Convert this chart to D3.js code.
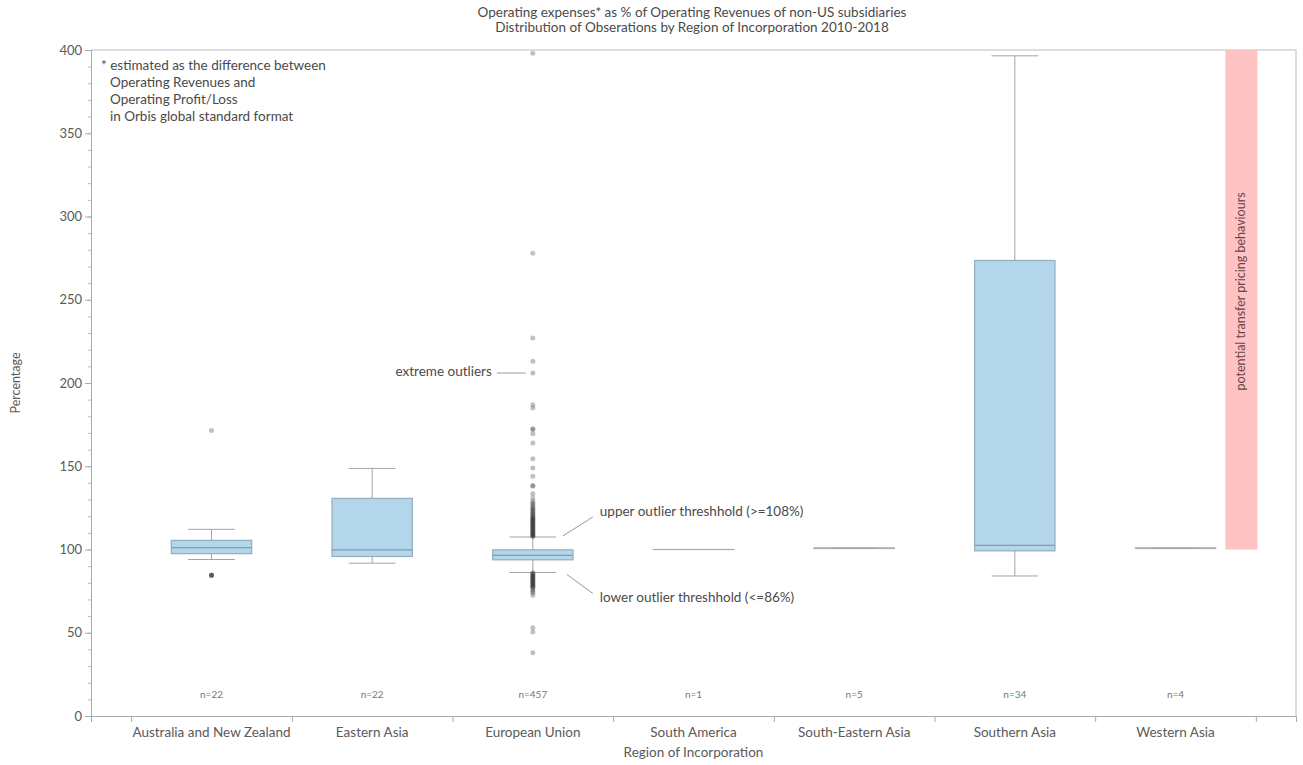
<!DOCTYPE html>
<html>
<head>
<meta charset="utf-8">
<script src="https://cdn.jsdelivr.net/npm/d3@7"></script>
<style>
  html, body { margin: 0; padding: 0; background: #fff; }
  svg { display: block; font-family: Lato, "Open Sans", sans-serif; }
</style>
</head>
<body>
<svg id="chart" width="1303" height="765"></svg>
<script>
// Regions of incorporation and observation counts
const regions = ["Australia and New Zealand", "Eastern Asia", "European Union",
  "South America", "South-Eastern Asia", "Southern Asia", "Western Asia"];
const counts = [22, 22, 457, 1, 5, 34, 4];

// Box plot statistics (operating expenses as % of operating revenues)
const whiskerLow  = [94.0, 91.8, 86.2, 100.0, 100.6, 84.1, 100.6];
const q1          = [97.5, 95.8, 93.8, 100.0, 100.6, 99.2, 100.6];
const median      = [101.1, 99.8, 96.5, 100.0, 100.7, 102.5, 100.7];
const q3          = [105.5, 130.7, 99.8, 100.0, 100.9, 273.6, 100.9];
const whiskerHigh = [112.1, 148.7, 107.5, 100.0, 100.9, 396.5, 100.9];

// Individual outlying observations per region
const outliers = [
  [171.5, 84.6, 84.6, 84.6, 84.6],
  [],
  [398, 278, 227, 213, 206, 187, 185, 172.5, 172, 169.5, 164, 154.5, 149, 144,
   138.5, 138, 133.5, 131, 129, 128, 127, 126, 125, 124.5, 123.5, 123, 122, 121.5,
   121, 120, 119.5, 119, 118.5, 118, 117.5, 117, 116.5, 116, 115.5, 115, 114.5,
   114, 113.5, 113, 112.5, 112, 111.5, 111, 110.5, 110, 109.5, 109, 108.5, 108, 108,
   86, 85.5, 85, 84.5, 84, 83.5, 83, 82.5, 82, 81.5, 81, 80.5, 80, 79.5, 79,
   78.5, 78, 77.5, 77, 76, 75, 74, 72.5, 53, 50.5, 38],
  [], [], [], []
];

// Shaded range of interest
const flagLow = 100, flagHigh = 400;
const flagLabel = "potential transfer pricing behaviours";

const yTicks = [0, 50, 100, 150, 200, 250, 300, 350, 400];
const yMinorTicks = d3.range(0, 401, 10);

const titleLines = [
  "Operating expenses* as % of Operating Revenues of non-US subsidiaries",
  "Distribution of Obserations by Region of Incorporation 2010-2018"
];
const noteLines = [
  "* estimated as the difference between",
  "Operating Revenues and",
  "Operating Profit/Loss",
  "in Orbis global standard format"
];

const svg = d3.select("#chart");
const plotLeft = 91, plotRight = 1296, plotTop = 50, plotBottom = 716;

const x = d3.scaleLinear().domain([0.25, 7.75]).range([plotLeft, plotRight]);
const y = d3.scaleLinear().domain([0, 400]).range([plotBottom, plotTop]);
const step = x(2) - x(1);
const boxW = step * 0.5;
const capW = step * 0.29;

const textCol = "#5a5a5a";

// frame
svg.append("path")
  .attr("d", `M${plotLeft},${plotTop}H${plotRight}V${plotBottom}`)
  .attr("fill", "none").attr("stroke", "#d4d4d4").attr("stroke-width", 1.5);

// shaded band
svg.append("rect")
  .attr("x", x(7.31)).attr("width", x(7.51) - x(7.31))
  .attr("y", y(flagHigh)).attr("height", y(flagLow) - y(flagHigh))
  .attr("fill", "#ffc3c3");
svg.append("text")
  .attr("transform", `translate(${x(7.41)},${y(255)}) rotate(-90)`)
  .attr("text-anchor", "middle").attr("dominant-baseline", "middle")
  .attr("font-size", 12.5).attr("fill", "#6a4545")
  .text(flagLabel);

// y axis minor + major
svg.append("g").attr("transform", `translate(${plotLeft},0)`)
  .call(d3.axisLeft(y).tickValues(yMinorTicks).tickSize(3).tickFormat(""))
  .call(g => g.select(".domain").remove())
  .selectAll("line").attr("stroke", "#bbb");
const yAxis = svg.append("g").attr("transform", `translate(${plotLeft},0)`)
  .call(d3.axisLeft(y).tickValues(yTicks).tickSize(6).tickPadding(3));
yAxis.select(".domain").attr("stroke", "#aaa");
yAxis.selectAll("line").attr("stroke", "#aaa");
yAxis.selectAll("text").attr("font-size", 13).attr("fill", textCol)
  .attr("font-family", "Lato, sans-serif");

// x axis with ticks at band boundaries
const xAxis = svg.append("g").attr("transform", `translate(0,${plotBottom})`)
  .call(d3.axisBottom(x).tickValues(d3.range(0.5, 8, 1)).tickSize(6).tickFormat(""));
xAxis.select(".domain").attr("stroke", "#aaa");
xAxis.selectAll("line").attr("stroke", "#aaa");

svg.append("g").selectAll("text").data(regions).join("text")
  .attr("x", (d, i) => x(i + 1)).attr("y", 737)
  .attr("text-anchor", "middle").attr("font-size", 13.5).attr("fill", textCol)
  .text(d => d);

// axis titles
svg.append("text").attr("x", (plotLeft + plotRight) / 2).attr("y", 757)
  .attr("text-anchor", "middle").attr("font-size", 13.5).attr("fill", textCol)
  .text("Region of Incorporation");
svg.append("text")
  .attr("transform", `translate(17,${(plotTop + plotBottom) / 2}) rotate(-90)`)
  .attr("text-anchor", "middle").attr("dominant-baseline", "middle")
  .attr("font-size", 12.5).attr("fill", textCol)
  .text("Percentage");

// title
svg.append("g").selectAll("text").data(titleLines).join("text")
  .attr("x", 692).attr("y", (d, i) => 17 + i * 15)
  .attr("text-anchor", "middle").attr("font-size", 13.5).attr("fill", "#4a4a4a")
  .text(d => d);

// footnote
svg.append("g").selectAll("text").data(noteLines).join("text")
  .attr("x", (d, i) => i === 0 ? 101 : 110)
  .attr("y", (d, i) => 70 + i * 16.9)
  .attr("font-size", 13.5).attr("fill", "#4a4a4a")
  .text(d => d);

// boxes
const boxes = svg.append("g").selectAll("g").data(regions).join("g")
  .attr("transform", (d, i) => `translate(${x(i + 1)},0)`);

boxes.append("line")
  .attr("y1", (d, i) => y(whiskerLow[i])).attr("y2", (d, i) => y(q1[i]))
  .attr("stroke", "#a3a3a3");
boxes.append("line")
  .attr("y1", (d, i) => y(q3[i])).attr("y2", (d, i) => y(whiskerHigh[i]))
  .attr("stroke", "#a3a3a3");
boxes.append("line")
  .attr("x1", -capW / 2).attr("x2", capW / 2)
  .attr("y1", (d, i) => y(whiskerLow[i])).attr("y2", (d, i) => y(whiskerLow[i]))
  .attr("stroke", "#a3a3a3");
boxes.append("line")
  .attr("x1", -capW / 2).attr("x2", capW / 2)
  .attr("y1", (d, i) => y(whiskerHigh[i])).attr("y2", (d, i) => y(whiskerHigh[i]))
  .attr("stroke", "#a3a3a3");
boxes.append("rect")
  .attr("x", -boxW / 2).attr("width", boxW)
  .attr("y", (d, i) => y(q3[i]))
  .attr("height", (d, i) => Math.max(0.01, y(q1[i]) - y(q3[i])))
  .attr("fill", "#b3d6ea").attr("stroke", (d, i) => q3[i] - q1[i] > 1 ? "#92aebe" : "#a8a8a8")
  .attr("stroke-width", 1.2);
boxes.append("line")
  .attr("x1", -boxW / 2).attr("x2", boxW / 2)
  .attr("y1", (d, i) => y(median[i])).attr("y2", (d, i) => y(median[i]))
  .attr("stroke", (d, i) => q3[i] - q1[i] > 1 ? "#7f9db0" : "#a8a8a8").attr("stroke-width", 1.2);

// outlier points
boxes.selectAll("circle").data((d, i) => outliers[i]).join("circle")
  .attr("cx", 0).attr("cy", v => y(v)).attr("r", 2.5)
  .attr("fill", "#222").attr("fill-opacity", 0.28);

// count labels
boxes.append("text").attr("y", 698)
  .attr("text-anchor", "middle").attr("font-size", 10).attr("fill", "#777")
  .text((d, i) => "n=" + counts[i]);

// annotations on the European Union distribution
const eu = 3;
const ann = svg.append("g").attr("font-size", 13.5).attr("fill", "#4a4a4a");
ann.append("line")
  .attr("x1", x(eu) - 36).attr("x2", x(eu) - 7)
  .attr("y1", y(206)).attr("y2", y(206)).attr("stroke", "#999");
ann.append("text").attr("x", x(eu) - 41).attr("y", y(206))
  .attr("text-anchor", "end").attr("dominant-baseline", "middle")
  .text("extreme outliers");
ann.append("line")
  .attr("x1", x(eu) + 30).attr("y1", y(whiskerHigh[2]) - 1)
  .attr("x2", x(eu) + 60).attr("y2", y(whiskerHigh[2]) - 20)
  .attr("stroke", "#999");
ann.append("text").attr("x", x(eu) + 67).attr("y", y(whiskerHigh[2]) - 24)
  .attr("dominant-baseline", "middle")
  .text("upper outlier threshhold (>=108%)");
ann.append("line")
  .attr("x1", x(eu) + 34).attr("y1", y(whiskerLow[2]) + 2)
  .attr("x2", x(eu) + 60).attr("y2", y(whiskerLow[2]) + 21)
  .attr("stroke", "#999");
ann.append("text").attr("x", x(eu) + 67).attr("y", y(whiskerLow[2]) + 26)
  .attr("dominant-baseline", "middle")
  .text("lower outlier threshhold (<=86%)");
</script>
</body>
</html>
